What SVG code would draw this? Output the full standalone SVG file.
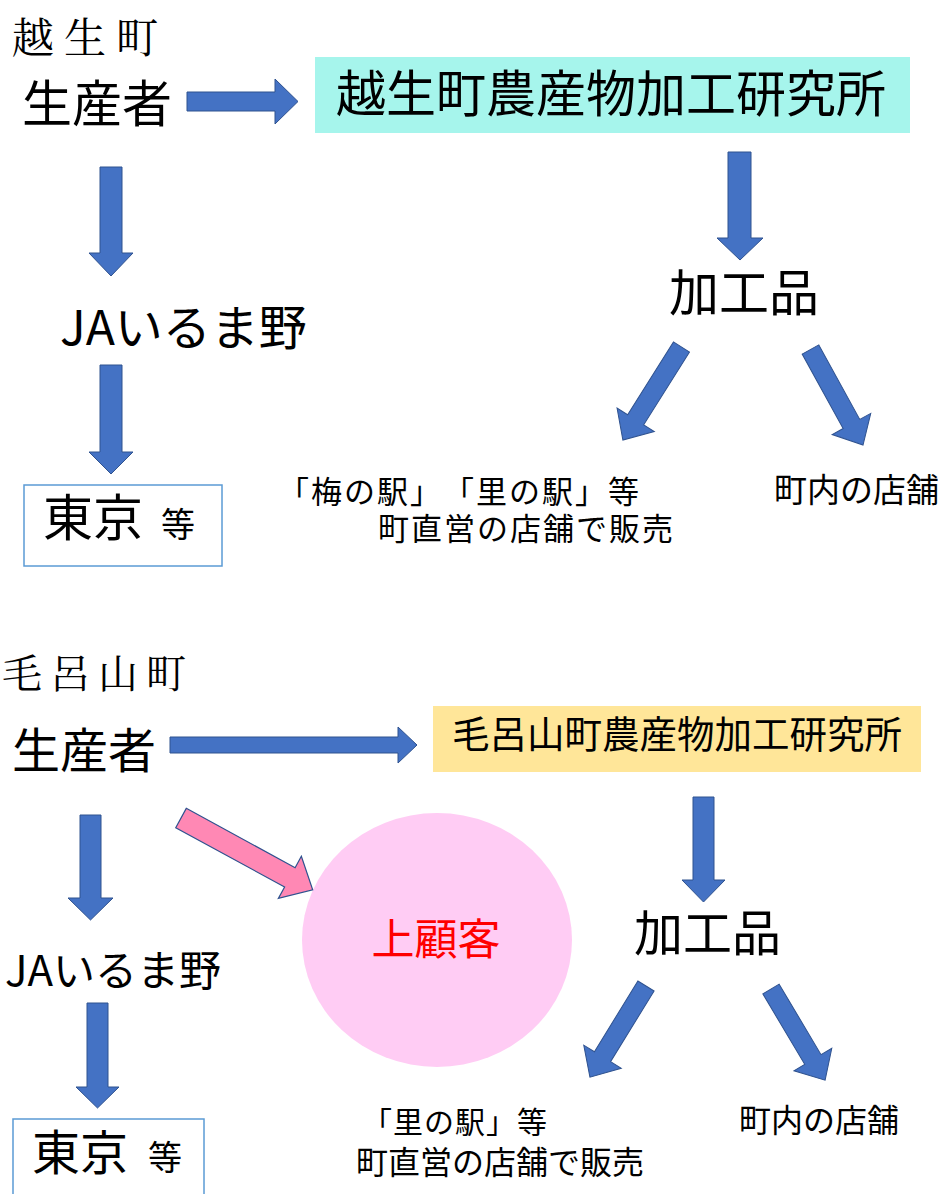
<svg xmlns="http://www.w3.org/2000/svg" width="943" height="1194" viewBox="0 0 943 1194">
<style>
text{font-family:"Noto Sans CJK JP","Noto Sans",sans-serif;fill:#000;text-spacing-trim:space-all}
.ttl{font-family:"Noto Serif CJK JP","Noto Sans CJK JP",serif}
.arr{fill:#4472c4;stroke:#2f528f;stroke-width:1}
.pink{fill:#ff88b4;stroke:#2f528f;stroke-width:1.2}
.box{fill:#fff;stroke:#5b9bd5;stroke-width:1.5}
</style>
<rect width="943" height="1194" fill="#fff"/>

<!-- top section -->
<g id="title-ogose"><text class="ttl" x="12" y="53" font-size="42" letter-spacing="10">越生町</text></g>
<g id="producer-ogose"><text x="22" y="122" font-size="50">生産者</text></g>
<g id="lab-ogose">
<rect x="315" y="57" width="595" height="76" fill="#a6f5ec"/>
<text x="611" y="112" font-size="50" text-anchor="middle">越生町農産物加工研究所</text>
</g>
<g id="ja-ogose"><text x="60" y="345" font-size="48">JAいるま野</text></g>
<g id="tokyo-ogose">
<rect class="box" x="24" y="485" width="198" height="81"/>
<text x="43" y="536" font-size="50">東京</text>
<text x="161" y="537" font-size="34">等</text>
</g>
<g id="products-ogose"><text x="669" y="311" font-size="50">加工品</text></g>
<g id="shops-direct-ogose">
<text font-size="31" letter-spacing="2"><tspan x="278" y="503">「梅の駅」「里の駅」等</tspan><tspan x="378" y="540">町直営の店舗で販売</tspan></text>
</g>
<g id="shops-town-ogose"><text x="774" y="502" font-size="33">町内の店舗</text></g>

<!-- bottom section -->
<g id="title-moroyama"><text class="ttl" x="2" y="688" font-size="40" letter-spacing="8">毛呂山町</text></g>
<g id="producer-moroyama"><text x="12" y="768" font-size="48">生産者</text></g>
<g id="lab-moroyama">
<rect x="433" y="706" width="488" height="66" fill="#ffe699"/>
<text x="677" y="748" font-size="37.5" text-anchor="middle">毛呂山町農産物加工研究所</text>
</g>
<g id="customer">
<ellipse cx="437" cy="940" rx="135" ry="127" fill="#ffccf4"/>
<text x="436" y="955" font-size="43" text-anchor="middle" style="fill:#ff0000">上顧客</text>
</g>
<g id="ja-moroyama"><text x="5" y="986" font-size="42">JAいるま野</text></g>
<g id="tokyo-moroyama">
<rect class="box" x="13" y="1119" width="191" height="90"/>
<text x="32" y="1170" font-size="48">東京</text>
<text x="148" y="1170" font-size="34">等</text>
</g>
<g id="products-moroyama"><text x="634" y="951" font-size="49">加工品</text></g>
<g id="shops-direct-moroyama">
<text><tspan x="362" y="1133" font-size="30" letter-spacing="1">「里の駅」等</tspan><tspan x="356" y="1174" font-size="32">町直営の店舗で販売</tspan></text>
</g>
<g id="shops-town-moroyama"><text x="739" y="1132" font-size="32">町内の店舗</text></g>

<g id="connectors">
<!-- top -->
<polygon class="arr" points="187,92 275,92 275,79 298,101.5 275,124 275,111 187,111"/>
<polygon class="arr" points="100,167 122,167 122,253 133,253 111,276 89,253 100,253"/>
<polygon class="arr" points="100,365 122,365 122,452 133,452 111,474 89,452 100,452"/>
<polygon class="arr" points="728,152 751,152 751,238 763,238 740,260 717,238 728,238"/>
<polygon class="arr" transform="translate(681.5,347) rotate(122.2)" points="0,-9.5 86,-9.5 86,-22 110,0 86,22 86,9.5 0,9.5"/>
<polygon class="arr" transform="translate(810.5,349.5) rotate(61.2)" points="0,-9.5 85,-9.5 85,-22 109,0 85,22 85,9.5 0,9.5"/>
<!-- bottom -->
<polygon class="arr" points="170,737 398,737 398,727 417,745 398,763 398,753 170,753"/>
<polygon class="arr" points="80,815 101,815 101,898 113,898 90.5,920 68,898 80,898"/>
<polygon class="arr" points="87,1003 108,1003 108,1087 119,1087 97.5,1108 76,1087 87,1087"/>
<polygon class="arr" points="693,797 714,797 714,880 725,880 703.5,902 682,880 693,880"/>
<polygon class="arr" transform="translate(646,986) rotate(121.6)" points="0,-9.5 83,-9.5 83,-22 107,0 83,22 83,9.5 0,9.5"/>
<polygon class="arr" transform="translate(771,989) rotate(59.3)" points="0,-9.5 82,-9.5 82,-22 106,0 82,22 82,9.5 0,9.5"/>
<polygon class="pink" transform="translate(181,818) rotate(28.6)" points="0,-11 124,-11 124,-24 150,0 124,24 124,11 0,11"/>
</g>
</svg>
